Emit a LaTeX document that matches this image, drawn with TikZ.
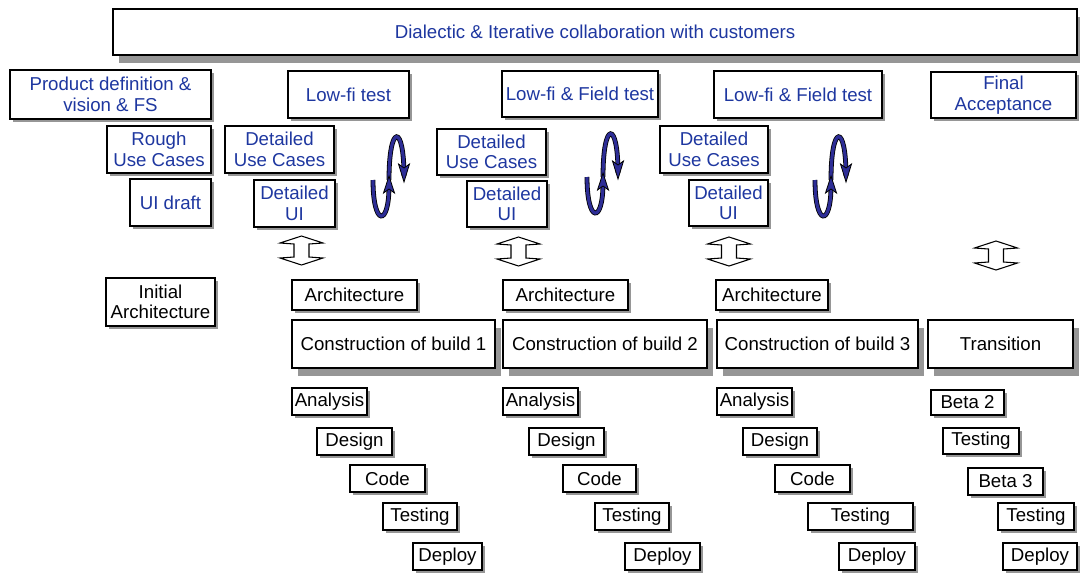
\documentclass[tikz,border=0pt]{standalone}
\usepackage{fontspec}
\setmainfont{Liberation Sans}
\usetikzlibrary{shadows}

\definecolor{txtblue}{RGB}{30,55,160}
\definecolor{arrowblue}{RGB}{45,45,150}
\definecolor{shadowgray}{RGB}{150,150,150}

\tikzset{
  box/.style={draw=black, line width=0.9pt, fill=white, inner sep=0pt,
    align=center, font=\fontsize{14}{15.4}\selectfont},
  small/.style={box, drop shadow={shadow xshift=1.9pt, shadow yshift=-1.9pt,
    fill=shadowgray, opacity=1}},
  large/.style={box, drop shadow={shadow xshift=4.5pt, shadow yshift=-6pt,
    fill=shadowgray, opacity=1}},
  blue/.style={text=txtblue},
  % two-way cycle arrow; origin where the two loops meet
  cycle arrow/.pic={
    \draw[black, line width=0.6pt, double=arrowblue, double distance=2.4pt]
      (0,0) .. controls (0,-57) and (15,-57) .. (15,-4);
    \draw[black, line width=0.6pt, double=arrowblue, double distance=2.4pt]
      (-16,0) .. controls (-16,47) and (0,47) .. (0,6);
    \filldraw[fill=arrowblue, draw=black, line width=0.6pt]
      (0,-4) -- (5.5,13) -- (0,9) -- (-5.5,13) -- cycle;
    \filldraw[fill=arrowblue, draw=black, line width=0.6pt]
      (15,2) -- (20.5,-16) -- (15,-12) -- (9.5,-16) -- cycle;
  },
  % hollow up-down block arrow; origin at its upper tip
  updown/.pic={
    \filldraw[fill=white, draw=black, line width=0.8pt]
      (0,0) -- (21.5,7) -- (7.5,8) -- (7.5,21) -- (21.5,22) -- (0,29)
      -- (-21.5,22) -- (-7.5,21) -- (-7.5,8) -- (-21.5,7) -- cycle;
  }
}

% \bx[style]{x1}{y1}{x2}{y2}{name}{text}
\newcommand\bx[7][small]{%
  \node[#1, minimum width={(#4-#2)*0.75pt}, minimum height={(#5-#3)*0.75pt}]
    (#6) at ({(#2+#4)/2},{(#3+#5)/2}) {#7};}

\begin{document}
\begin{tikzpicture}[x=0.75pt, y=-0.75pt]
\useasboundingbox (0,0) rectangle (1080,572);

% customer collaboration banner
\bx[large,blue]{113}{9}{1077}{55}{banner}{Dialectic \& Iterative collaboration with customers}

% inception
\bx[small,blue]{10}{70}{211}{119}{vision}{Product definition \&\\vision \& FS}
\bx[small,blue]{107}{126}{211}{173}{rough}{Rough\\Use Cases}
\bx[small,blue]{130}{179}{211}{226}{uidraft}{UI draft}
\bx[small]{106}{278}{215}{326}{initarch}{Initial\\Architecture}

% iteration 1
\bx[small,blue]{288}{71}{409}{118}{test1}{Low-fi test}
\bx[small,blue]{225}{126}{334}{173}{uc1}{Detailed\\Use Cases}
\bx[small,blue]{254}{180}{335}{227}{ui1}{Detailed\\UI}
\pic at (389,180) {cycle arrow};
\pic at (301.5,236) {updown};
\bx[small]{292}{280}{417}{310}{arch1}{Architecture}
\bx[large]{292}{320}{495}{368}{build1}{Construction of build 1}
\bx[small]{292}{388}{367}{415}{ana1}{Analysis}
\bx[small]{317}{428}{392}{455}{des1}{Design}
\bx[small]{350}{465}{425}{492}{code1}{Code}
\bx[small]{383}{503}{457}{530}{tst1}{Testing}
\bx[small]{413}{543}{482}{570}{dep1}{Deploy}

% iteration 2
\bx[small,blue]{502}{71}{658}{117}{test2}{Low-fi \& Field test}
\bx[small,blue]{437}{129}{546}{175}{uc2}{Detailed\\Use Cases}
\bx[small,blue]{467}{181}{547}{227}{ui2}{Detailed\\UI}
\pic at (603,177) {cycle arrow};
\pic at (518.5,237) {updown};
\bx[small]{503}{280}{628}{310}{arch2}{Architecture}
\bx[large]{503}{320}{707}{368}{build2}{Construction of build 2}
\bx[small]{503}{388}{578}{415}{ana2}{Analysis}
\bx[small]{529}{428}{604}{455}{des2}{Design}
\bx[small]{563}{465}{636}{492}{code2}{Code}
\bx[small]{595}{503}{669}{530}{tst2}{Testing}
\bx[small]{625}{543}{700}{570}{dep2}{Deploy}

% iteration 3
\bx[small,blue]{714}{71}{882}{118}{test3}{Low-fi \& Field test}
\bx[small,blue]{660}{126}{768}{173}{uc3}{Detailed\\Use Cases}
\bx[small,blue]{689}{180}{768}{226}{ui3}{Detailed\\UI}
\pic at (831,180) {cycle arrow};
\pic at (729,237) {updown};
\bx[small]{716}{280}{828}{310}{arch3}{Architecture}
\bx[large]{717}{320}{918}{368}{build3}{Construction of build 3}
\bx[small]{717}{388}{792}{415}{ana3}{Analysis}
\bx[small]{743}{428}{817}{455}{des3}{Design}
\bx[small]{775}{465}{850}{492}{code3}{Code}
\bx[small]{808}{503}{913}{530}{tst3}{Testing}
\bx[small]{839}{543}{915}{570}{dep3}{Deploy}

% transition
\bx[small,blue]{931}{72}{1076}{118}{accept}{Final\\Acceptance}
\pic at (996,241) {updown};
\bx[large]{928}{320}{1073}{368}{trans}{Transition}
\bx[small]{931}{390}{1004}{415}{beta2}{Beta 2}
\bx[small]{943}{428}{1019}{454}{tst4a}{Testing}
\bx[small]{968}{468}{1043}{495}{beta3}{Beta 3}
\bx[small]{998}{503}{1074}{530}{tst4b}{Testing}
\bx[small]{1003}{543}{1077}{570}{dep4}{Deploy}
\end{tikzpicture}
\end{document}
